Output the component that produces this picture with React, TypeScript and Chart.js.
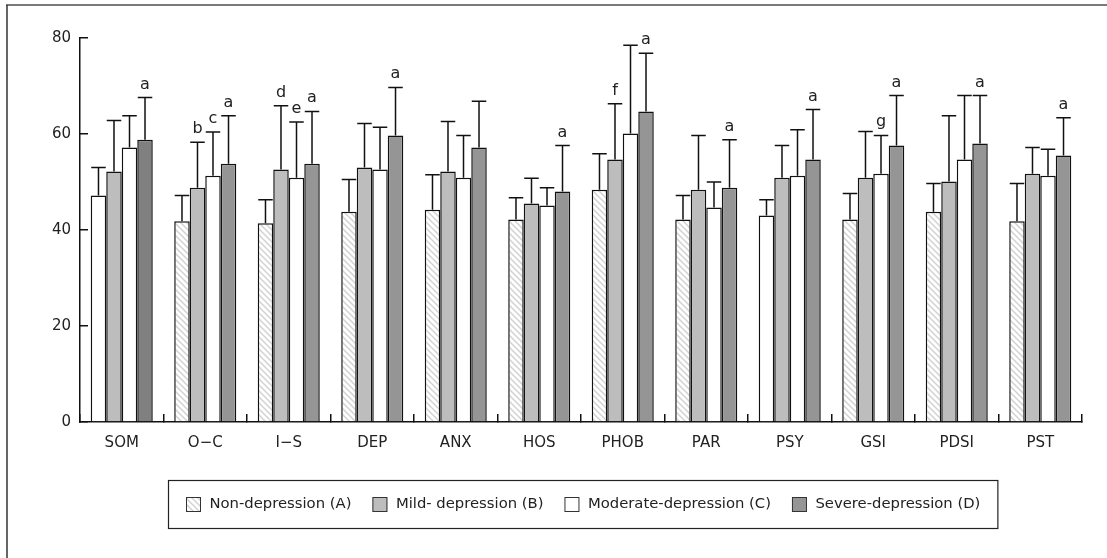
import React, { useEffect, useRef } from "react";
import { Chart, registerables } from "chart.js";

Chart.register(...registerables);

const categories = ["SOM", "O−C", "I−S", "DEP", "ANX", "HOS", "PHOB", "PAR", "PSY", "GSI", "PDSI", "PST"];
const seriesNames = ["Non-depression (A)", "Mild- depression (B)", "Moderate-depression (C)", "Severe-depression (D)"];

const meanA = [47.2, 41.8, 41.4, 43.8, 44.2, 42.2, 48.4, 42.2, 43.0, 42.2, 43.8, 41.8];
const sdA = [5.8, 5.4, 4.9, 6.7, 7.3, 4.5, 7.5, 5.0, 3.3, 5.4, 5.9, 7.9];
const meanB = [52.2, 48.8, 52.6, 53.0, 52.2, 45.5, 54.7, 48.4, 50.9, 50.9, 50.1, 51.7];
const sdB = [10.6, 9.5, 13.3, 9.2, 10.4, 5.3, 11.6, 11.3, 6.7, 9.6, 13.7, 5.5];
const meanC = [57.2, 51.3, 50.9, 52.6, 50.9, 45.1, 60.1, 44.7, 51.3, 51.7, 54.7, 51.3];
const sdC = [6.6, 9.1, 11.6, 8.8, 8.8, 3.7, 18.4, 5.3, 9.6, 8.0, 13.3, 5.5];
const meanD = [58.8, 53.8, 53.8, 59.7, 57.2, 48.0, 64.7, 48.8, 54.7, 57.6, 58.0, 55.5];
const sdD = [8.8, 10.0, 10.9, 10.0, 9.6, 9.6, 12.1, 10.0, 10.4, 10.4, 10.0, 7.9];

const lettersA = ["", "", "", "", "", "", "", "", "", "", "", ""];
const lettersB = ["", "b", "d", "", "", "", "f", "", "", "", "", ""];
const lettersC = ["", "c", "e", "", "", "", "", "", "", "g", "", ""];
const lettersD = ["a", "a", "a", "a", "", "a", "a", "a", "a", "a", "a", "a"];

const yTicks = [0, 20, 40, 60, 80];

// style-only lists
const plainHatchCategories = ["SOM", "PSY"];
const darkSevereCategories = ["SOM"];

const FONT = '"DejaVu Sans", sans-serif';

function makeHatch(): CanvasPattern | string {
  const n = 6;
  const c = document.createElement("canvas");
  c.width = n;
  c.height = n;
  const g = c.getContext("2d");
  if (!g) return "#eee";
  g.fillStyle = "#ffffff";
  g.fillRect(0, 0, n, n);
  g.strokeStyle = "#d2d2d2";
  g.lineWidth = 1.5;
  g.beginPath();
  g.moveTo(-1, -1);
  g.lineTo(n + 1, n + 1);
  g.moveTo(-1, n - 1);
  g.lineTo(1, n + 1);
  g.moveTo(n - 1, -1);
  g.lineTo(n + 1, 1);
  g.stroke();
  const p = g.createPattern(c, "repeat");
  return p || "#eee";
}

export default function App() {
  const ref = useRef<HTMLCanvasElement | null>(null);

  useEffect(() => {
    const canvas = ref.current;
    if (!canvas) return;
    const hatch = makeHatch();
    const colB = "#bdbdbd";
    const colC = "#ffffff";
    const colD = "#959595";
    const colDdark = "#808080";

    const bgA = categories.map((c) => (plainHatchCategories.includes(c) ? "#ffffff" : hatch));
    const bgD = categories.map((c) => (darkSevereCategories.includes(c) ? colDdark : colD));

    const means = [meanA, meanB, meanC, meanD];
    const sds = [sdA, sdB, sdC, sdD];
    const letters = [lettersA, lettersB, lettersC, lettersD];
    const bgs: any[] = [bgA, colB, colC, bgD];
    const legendFills: any[] = [hatch, colB, colC, colD];

    const framePlugin = {
      id: "frame",
      beforeDraw(chart: any) {
        const ctx = chart.ctx;
        ctx.save();
        ctx.fillStyle = "#fff";
        ctx.fillRect(0, 0, chart.width, chart.height);
        ctx.strokeStyle = "#7a7a7a";
        ctx.lineWidth = 2;
        ctx.beginPath();
        ctx.moveTo(6, 5);
        ctx.lineTo(chart.width, 5);
        ctx.stroke();
        ctx.strokeStyle = "#333";
        ctx.lineWidth = 1.5;
        ctx.beginPath();
        ctx.moveTo(7, 5);
        ctx.lineTo(7, chart.height);
        ctx.stroke();
        ctx.restore();
      },
    };

    const errorPlugin = {
      id: "errbars",
      afterDatasetsDraw(chart: any) {
        const ctx = chart.ctx;
        const yScale = chart.scales.y;
        ctx.save();
        ctx.strokeStyle = "#111";
        ctx.lineWidth = 1.5;
        ctx.fillStyle = "#222";
        ctx.font = `16px ${FONT}`;
        ctx.textAlign = "center";
        ctx.textBaseline = "alphabetic";
        means.forEach((m, di) => {
          const meta = chart.getDatasetMeta(di);
          meta.data.forEach((el: any, j: number) => {
            const top = yScale.getPixelForValue(m[j] + sds[di][j]);
            const x = el.x;
            const half = el.width / 2 - 0.5;
            ctx.beginPath();
            ctx.moveTo(x, el.y);
            ctx.lineTo(x, top);
            ctx.moveTo(x - half, top);
            ctx.lineTo(x + half, top);
            ctx.stroke();
            const lt = letters[di][j];
            if (lt) ctx.fillText(lt, x, top - 9);
          });
        });
        ctx.restore();
      },
    };

    const legendPlugin = {
      id: "customLegend",
      afterDraw(chart: any) {
        const ctx = chart.ctx;
        const area = chart.chartArea;
        ctx.save();
        ctx.font = `14.8px ${FONT}`;
        const sw = 15, gapText = 8.5, gapItem = 21, padX = 17.5;
        const widths = seriesNames.map((s) => ctx.measureText(s).width);
        const content = widths.reduce((a, w) => a + sw + gapText + w, 0) + gapItem * (seriesNames.length - 1);
        const boxW = content + padX * 2;
        const cx = (area.left + area.right) / 2 + 1.5;
        const boxL = Math.round(cx - boxW / 2) + 0.5;
        const boxT = Math.round(area.bottom + 58) + 0.5;
        const boxH = 48;
        ctx.strokeStyle = "#222";
        ctx.lineWidth = 1.2;
        ctx.strokeRect(boxL, boxT, boxW, boxH);
        const cy = boxT + boxH / 2;
        let x = boxL + padX;
        ctx.textBaseline = "middle";
        ctx.textAlign = "left";
        seriesNames.forEach((s, i) => {
          ctx.fillStyle = legendFills[i];
          ctx.fillRect(x, cy - sw / 2, sw, sw);
          ctx.strokeStyle = "#333";
          ctx.lineWidth = 1;
          ctx.strokeRect(x + 0.5, cy - sw / 2 + 0.5, sw - 1, sw - 1);
          ctx.fillStyle = "#222";
          ctx.fillText(s, x + sw + gapText, cy);
          x += sw + gapText + widths[i] + gapItem;
        });
        ctx.restore();
      },
    };

    const chart = new Chart(canvas, {
      type: "bar",
      data: {
        labels: categories,
        datasets: seriesNames.map((name, i) => ({
          label: name,
          data: means[i],
          backgroundColor: bgs[i],
          borderColor: "#111",
          borderWidth: 1.5,
          borderSkipped: "start",
          categoryPercentage: 0.743,
          barPercentage: 1.0,
        })),
      },
      options: {
        responsive: false,
        animation: false,
        devicePixelRatio: 1,
        layout: { padding: { left: 0, top: 38, right: 25, bottom: 100 } },
        plugins: {
          legend: { display: false },
          tooltip: { enabled: false },
        },
        scales: {
          x: {
            grid: {
              display: true,
              drawOnChartArea: false,
              offset: true,
              tickLength: -8,
              color: "#111",
              lineWidth: 1.5,
            },
            border: { display: true, color: "#111", width: 1.5 },
            ticks: { color: "#222", font: { family: FONT, size: 15 }, padding: 20, autoSkip: false, maxRotation: 0 },
            afterFit: (s: any) => {
              s.height = 36;
            },
          },
          y: {
            min: 0,
            max: 80,
            afterBuildTicks: (s: any) => {
              s.ticks = yTicks.map((v) => ({ value: v }));
            },
            grid: {
              display: true,
              drawOnChartArea: false,
              tickLength: -8,
              color: "#111",
              lineWidth: 1.5,
            },
            border: { display: true, color: "#111", width: 1.5 },
            ticks: { color: "#222", font: { family: FONT, size: 15 }, padding: 17 },
            afterFit: (s: any) => {
              s.width = 80;
            },
          },
        },
      },
      plugins: [framePlugin, errorPlugin, legendPlugin],
    } as any);

    return () => chart.destroy();
  }, []);

  return (
    <div style={{ position: "absolute", left: 0, top: 0, width: 1107, height: 558 }}>
      <canvas ref={ref} width={1107} height={558} style={{ width: 1107, height: 558, display: "block" }} />
    </div>
  );
}
